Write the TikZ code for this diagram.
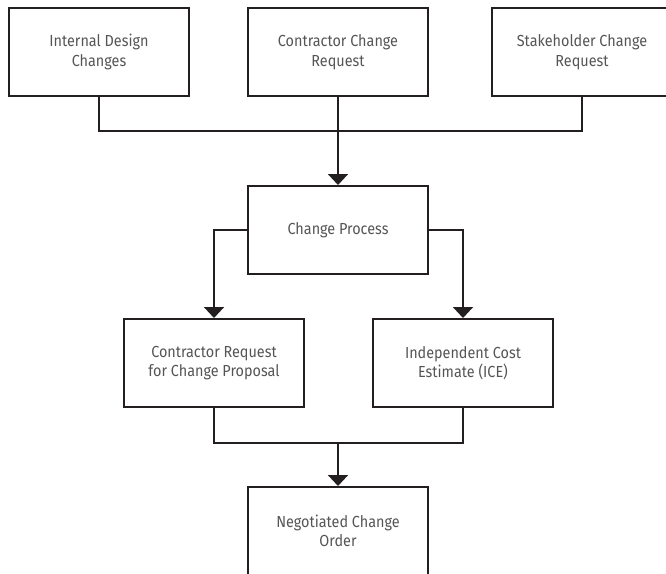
\documentclass[tikz,border=0pt]{standalone}
\usepackage{fontspec}
\setmainfont{Fira Sans}[FakeStretch=0.9]
\usepackage{xcolor}
\usepackage{tikz}
\usetikzlibrary{arrows.meta,positioning,calc}

\definecolor{boxline}{HTML}{231F20}
\definecolor{boxtext}{HTML}{555555}

\begin{document}
\begin{tikzpicture}[x=1pt, y=1pt,
  procbox/.style={draw=boxline, line width=2pt, rectangle, minimum width=180pt, minimum height=88pt,
    inner sep=0pt, align=center, text=boxtext, font=\fontsize{16}{19.5}\selectfont},
  flow/.style={draw=boxline, line width=2pt, -{Triangle[width=20pt,length=11pt]}},
  link/.style={draw=boxline, line width=2pt}]
\useasboundingbox (0,0) rectangle (666,-573);
\clip (0,0) rectangle (666,-573);

% Sources of change
\node[procbox] (idc) at (99,-52) {Internal Design\\Changes};
\node[procbox] (ccr) at (338,-52) {Contractor Change\\Request};
\node[procbox] (shr) at (582,-52) {Stakeholder Change\\Request};

% Process
\node[procbox] (cp) at (338,-230) {Change Process};

% Outcomes
\node[procbox] (crcp) at (214,-363) {Contractor Request\\for Change Proposal};
\node[procbox] (ice) at (463,-363) {Independent Cost\\Estimate (ICE)};
\node[procbox] (nco) at (338,-531) {Negotiated Change\\Order};

% Junctions
\coordinate (topjoin) at (338,-131);
\coordinate (botjoin) at (338,-443);

% Sources into process
\draw[link] (idc.south) |- (topjoin) -| (shr.south);
\draw[flow] (ccr.south) -- (cp.north);

% Process branches
\draw[flow] (cp.west) -| (crcp.north);
\draw[flow] (cp.east) -| (ice.north);

% Negotiation
\draw[link] (crcp.south) |- (botjoin) -| (ice.south);
\draw[flow] (botjoin) -- (nco.north);

\end{tikzpicture}
\end{document}
